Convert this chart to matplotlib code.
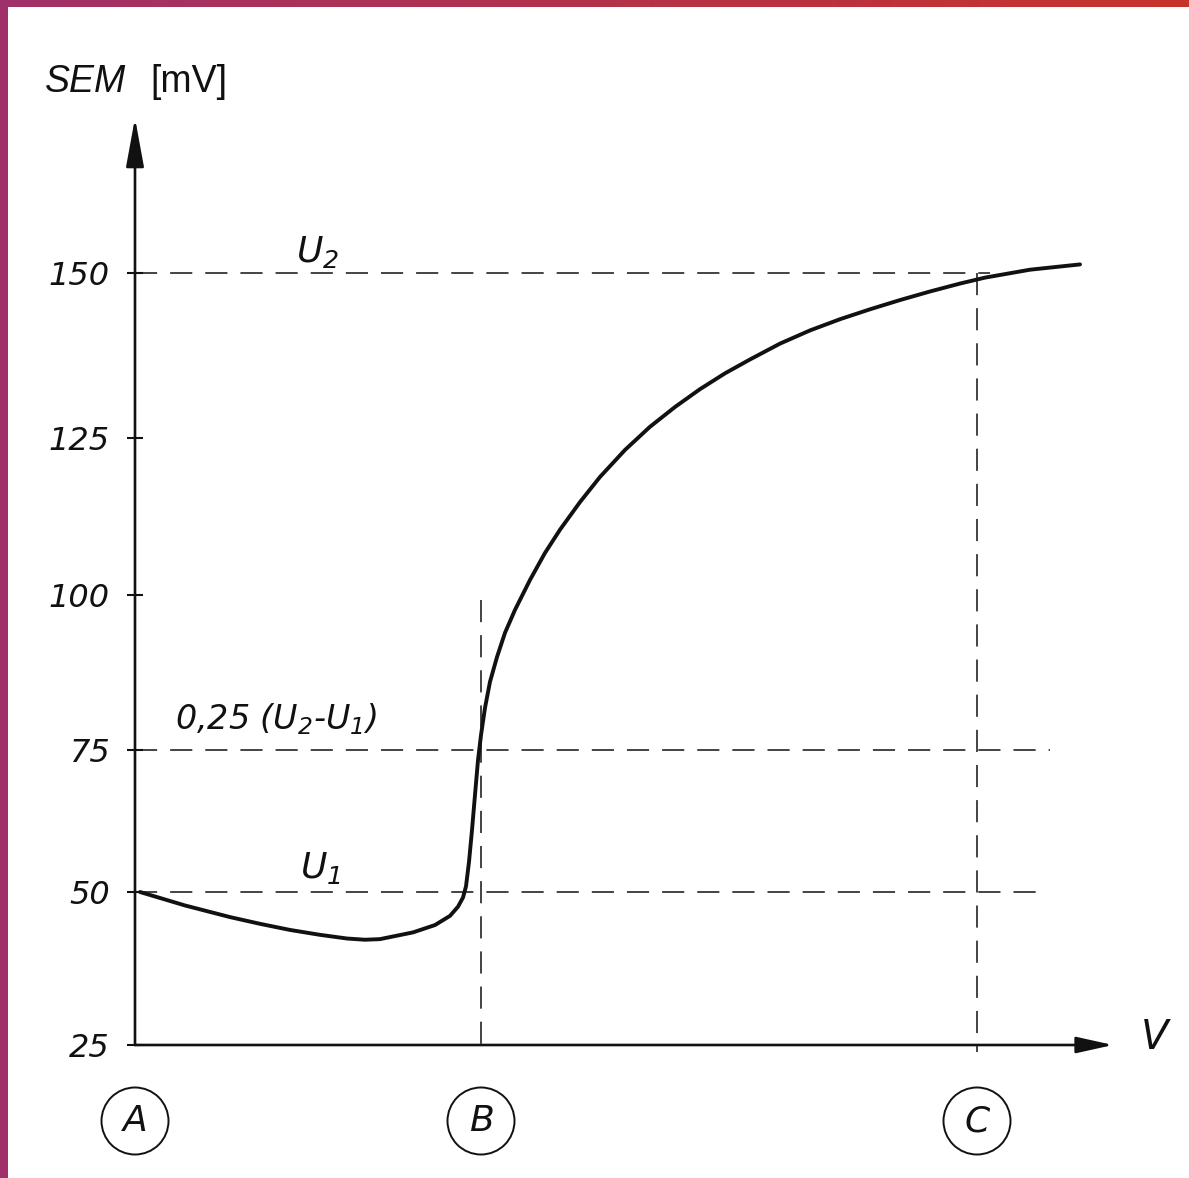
import numpy as np
import matplotlib.pyplot as plt
from matplotlib.patches import Circle, Rectangle
from matplotlib.colors import LinearSegmentedColormap
from matplotlib.scale import FuncScale

# ─── Data ───────────────────────────────────────────────────────────────────────
sem_ticks = [25, 50, 75, 100, 125, 150]
U1 = 50
U2 = 150
U_quarter = 75                     # 0,25 (U2 - U1) level as drawn
point_names = ['A', 'B', 'C']
point_x = [0.0, 3.46, 8.42]        # V position of the marked points

curve_v = [0.05, 0.50, 0.95, 1.25, 1.55, 1.85, 2.12, 2.30, 2.45, 2.78,
           3.00, 3.15, 3.23, 3.28, 3.31, 3.34, 3.37, 3.40, 3.43, 3.46,
           3.50, 3.55, 3.62, 3.70, 3.80, 3.95, 4.10, 4.25, 4.45, 4.65,
           4.90, 5.15, 5.40, 5.65, 5.90, 6.15, 6.45, 6.75, 7.05, 7.35,
           7.65, 7.95, 8.25, 8.50, 8.95, 9.45]
curve_sem = [50.0, 47.8, 45.9, 44.8, 43.8, 43.0, 42.4, 42.2, 42.3, 43.4,
             44.6, 46.1, 47.6, 49.1, 51.0, 55.3, 60.9, 67.1, 73.2, 77.4,
             81.8, 86.0, 90.0, 93.9, 97.6, 102.4, 106.7, 110.4, 114.8, 118.8,
             123.1, 126.7, 129.7, 132.4, 134.8, 136.9, 139.3, 141.3, 143.0, 144.5,
             145.9, 147.2, 148.4, 149.3, 150.5, 151.3]

# ─── Hand-drawn (slightly uneven) vertical scale ─────────────────────────────────
scale_vals = np.array([0, 25, 50, 75, 100, 125, 150, 200])
scale_pix = -np.array([1198, 1045, 892, 750, 595, 438, 273, -57], dtype=float)

def fwd(v):
    return np.interp(v, scale_vals, scale_pix)

def inv(p):
    return np.interp(p, scale_pix, scale_vals)

W, H = 1189, 1178
plt.rcParams['mathtext.fontset'] = 'custom'
plt.rcParams['mathtext.rm'] = 'DejaVu Sans:italic'
plt.rcParams['mathtext.it'] = 'DejaVu Sans:italic'

fig = plt.figure(figsize=(W / 100, H / 100), dpi=100)
fig.patch.set_facecolor('white')

ax = fig.add_axes([135 / W, (H - 1045) / H, (1113 - 135) / W, (1045 - 118) / H])
ax.set_yscale(FuncScale(ax, (fwd, inv)))
ax.set_xlim(0, 9.78)
ax.set_ylim(25, inv(-118))
for s in ax.spines.values():
    s.set_visible(False)
ax.patch.set_alpha(0)

ink = '#111111'

# axes with arrow heads
ax.annotate('', xy=(0, inv(-118)), xytext=(0, 25),
            arrowprops=dict(arrowstyle='-|>,head_length=1.2,head_width=0.22',
                            lw=1.9, color=ink, shrinkA=0, shrinkB=0,
                            mutation_scale=25), annotation_clip=False)
ax.annotate('', xy=(9.78, 25), xytext=(0, 25),
            arrowprops=dict(arrowstyle='-|>,head_length=0.9,head_width=0.2',
                            lw=1.9, color=ink, shrinkA=0, shrinkB=0,
                            mutation_scale=25), annotation_clip=False)

# ticks
ax.set_xticks([])
ax.set_yticks(sem_ticks)
ax.set_yticklabels([str(t) for t in sem_ticks], fontsize=23, style='italic',
                   color=ink)
ax.tick_params(axis='y', direction='inout', length=12, width=1.5, pad=12,
               colors=ink)

# dashed guides
dash = (0, (14.5, 8.5))
ax.plot([0, 8.55], [U2, U2], color=ink, lw=1.1, ls=dash, clip_on=False)
ax.plot([0, 9.15], [U_quarter, U_quarter], color=ink, lw=1.1, ls=dash, clip_on=False)
ax.plot([0, 9.05], [U1, U1], color=ink, lw=1.1, ls=dash, clip_on=False)
ax.plot([point_x[1], point_x[1]], [99.2, 23.9], color=ink, lw=1.1, ls=dash,
        clip_on=False)
ax.plot([point_x[2], point_x[2]], [U2, 23.9], color=ink, lw=1.1, ls=dash,
        clip_on=False)

# measured curve
ax.plot(curve_v, curve_sem, color=ink, lw=2.8, solid_joinstyle='round',
        solid_capstyle='round', clip_on=False, zorder=5)

# labels
ax.text(1.82, 153.2, '$U_2$', fontsize=26, ha='center', va='center', color=ink)
ax.text(0.40, 80.0, '0,25 ($U_2$-$U_1$)', fontsize=24, style='italic',
        ha='left', va='center', color=ink)
ax.text(1.85, 54.2, '$U_1$', fontsize=26, ha='center', va='center', color=ink)
ax.text(10.2, 26.3, 'V', fontsize=29, style='italic', ha='center', va='center',
        color=ink)

fig.text(45 / W, 1 - 92 / H, 'SEM', fontsize=27, style='italic',
         family='Liberation Sans', va='baseline', ha='left', color=ink)
fig.text(150 / W, 1 - 92 / H, '[mV]', fontsize=27,
         family='Liberation Sans', va='baseline', ha='left', color=ink)

# circled point markers below the axis
fig.canvas.draw()
for name, xv in zip(point_names, point_x):
    px = ax.transData.transform((xv, 25))[0]
    cy = (H - 1121) / 100
    fig.add_artist(Circle((px / 100, cy), 0.335, transform=fig.dpi_scale_trans,
                          fill=False, lw=1.4, ec=ink))
    fig.text(px / W, (H - 1121) / H, name, fontsize=26, style='italic',
             ha='center', va='center', color=ink)

# decorative frame strips
fig.add_artist(Rectangle((0, 0), 8 / W, 1, transform=fig.transFigure,
                         color='#A0306A', lw=0, zorder=10))
gax = fig.add_axes([0, 1 - 7 / H, 1, 7 / H])
grad = np.linspace(0, 1, 256).reshape(1, -1)
gax.imshow(grad, aspect='auto',
           cmap=LinearSegmentedColormap.from_list('strip', ['#A0306A', '#C8342A']))
gax.axis('off')

fig.savefig('out.png', dpi=100)
